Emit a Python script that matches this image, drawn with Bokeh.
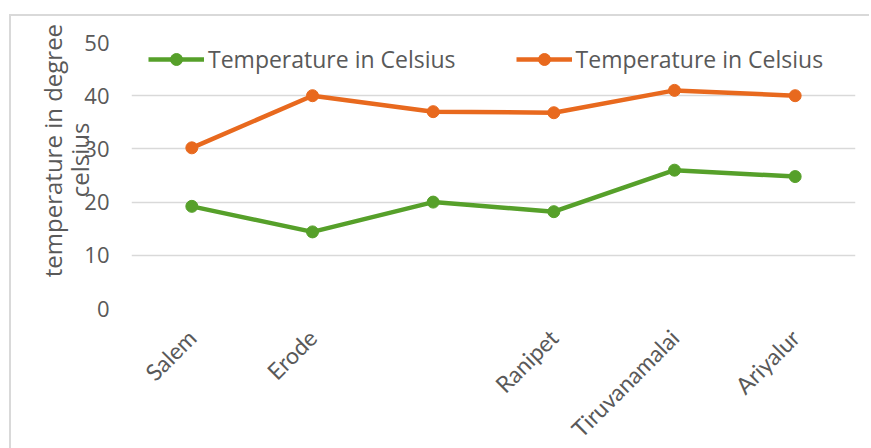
from math import pi
from bokeh.plotting import figure
from bokeh.models import FactorRange, Range1d, FixedTicker, Legend, LegendItem
from bokeh.embed import file_html
from bokeh.resources import INLINE

categories = ["Salem", "Erode", " ", "Ranipet", "Tiruvanamalai", "Ariyalur"]
series_green = [19.2, 14.4, 20.0, 18.2, 26.0, 24.8]
series_orange = [30.2, 40.0, 37.0, 36.8, 41.0, 40.0]
series_names = ["Temperature in Celsius", "Temperature in Celsius"]
y_ticks = [0, 10, 20, 30, 40, 50]
y_title_lines = ["temperature in degree", "celsius"]

FONT = "Open Sans"
TXT = "#595959"
GREEN = "#56A02A"
ORANGE = "#E8691E"
NBSP = "\u00a0"

p = figure(width=860, height=480, x_range=FactorRange(*categories, range_padding=0),
           y_range=Range1d(0, 50), output_backend="svg", toolbar_location=None,
           min_border_left=120, min_border_right=16, min_border_top=26, min_border_bottom=188)
p.styles = {"border-left": "2px solid #d9d9d9", "border-top": "2px solid #d9d9d9",
            "margin-left": "9px", "margin-top": "14px"}
p.outline_line_color = None
p.background_fill_color = "white"
p.border_fill_color = "white"

p.xgrid.grid_line_color = None
p.ygrid.grid_line_color = "#d9d9d9"
p.ygrid.grid_line_width = 1.5
p.yaxis.ticker = FixedTicker(ticks=y_ticks)

for ax in (p.xaxis, p.yaxis):
    ax.axis_line_color = None
    ax.major_tick_line_color = None
    ax.minor_tick_line_color = None
    ax.major_tick_out = 0
    ax.major_tick_in = 0
    ax.major_label_text_font = FONT
    ax.major_label_text_font_size = "22px"
    ax.major_label_text_color = TXT
p.yaxis.major_label_standoff = 22
p.xaxis.major_label_text_font = "Lato"
p.xaxis.major_label_text_font_size = "23px"
p.xaxis.major_label_orientation = pi / 4
p.xaxis.major_label_standoff = 25

# leading no-break spaces shift the rotated lines upward, as in the reference
p.yaxis.axis_label = NBSP * 8 + y_title_lines[0] + "\n" + NBSP * 5 + y_title_lines[1]
p.yaxis.axis_label_text_font = FONT
p.yaxis.axis_label_text_font_size = "24px"
p.yaxis.axis_label_text_font_style = "normal"
p.yaxis.axis_label_text_color = TXT
p.yaxis.axis_label_text_line_height = 0.83
p.yaxis.axis_label_standoff = -15

lg = p.line(categories, series_green, line_color=GREEN, line_width=4.5)
sg = p.scatter(categories, series_green, size=12, fill_color=GREEN, line_color=GREEN)
lo = p.line(categories, series_orange, line_color=ORANGE, line_width=4.5)
so = p.scatter(categories, series_orange, size=12, fill_color=ORANGE, line_color=ORANGE)

legend = Legend(items=[LegendItem(label=series_names[0], renderers=[lg, sg]),
                       LegendItem(label=series_names[1], renderers=[lo, so])],
                orientation="horizontal", location=(17, 233),
                glyph_width=56, glyph_height=30, label_standoff=4, spacing=60,
                padding=0, margin=0, border_line_color=None, background_fill_alpha=0,
                label_text_font=FONT, label_text_font_size="23px", label_text_color=TXT,
                label_height=30)
p.add_layout(legend)

open("out.html", "w").write(file_html(p, INLINE))
